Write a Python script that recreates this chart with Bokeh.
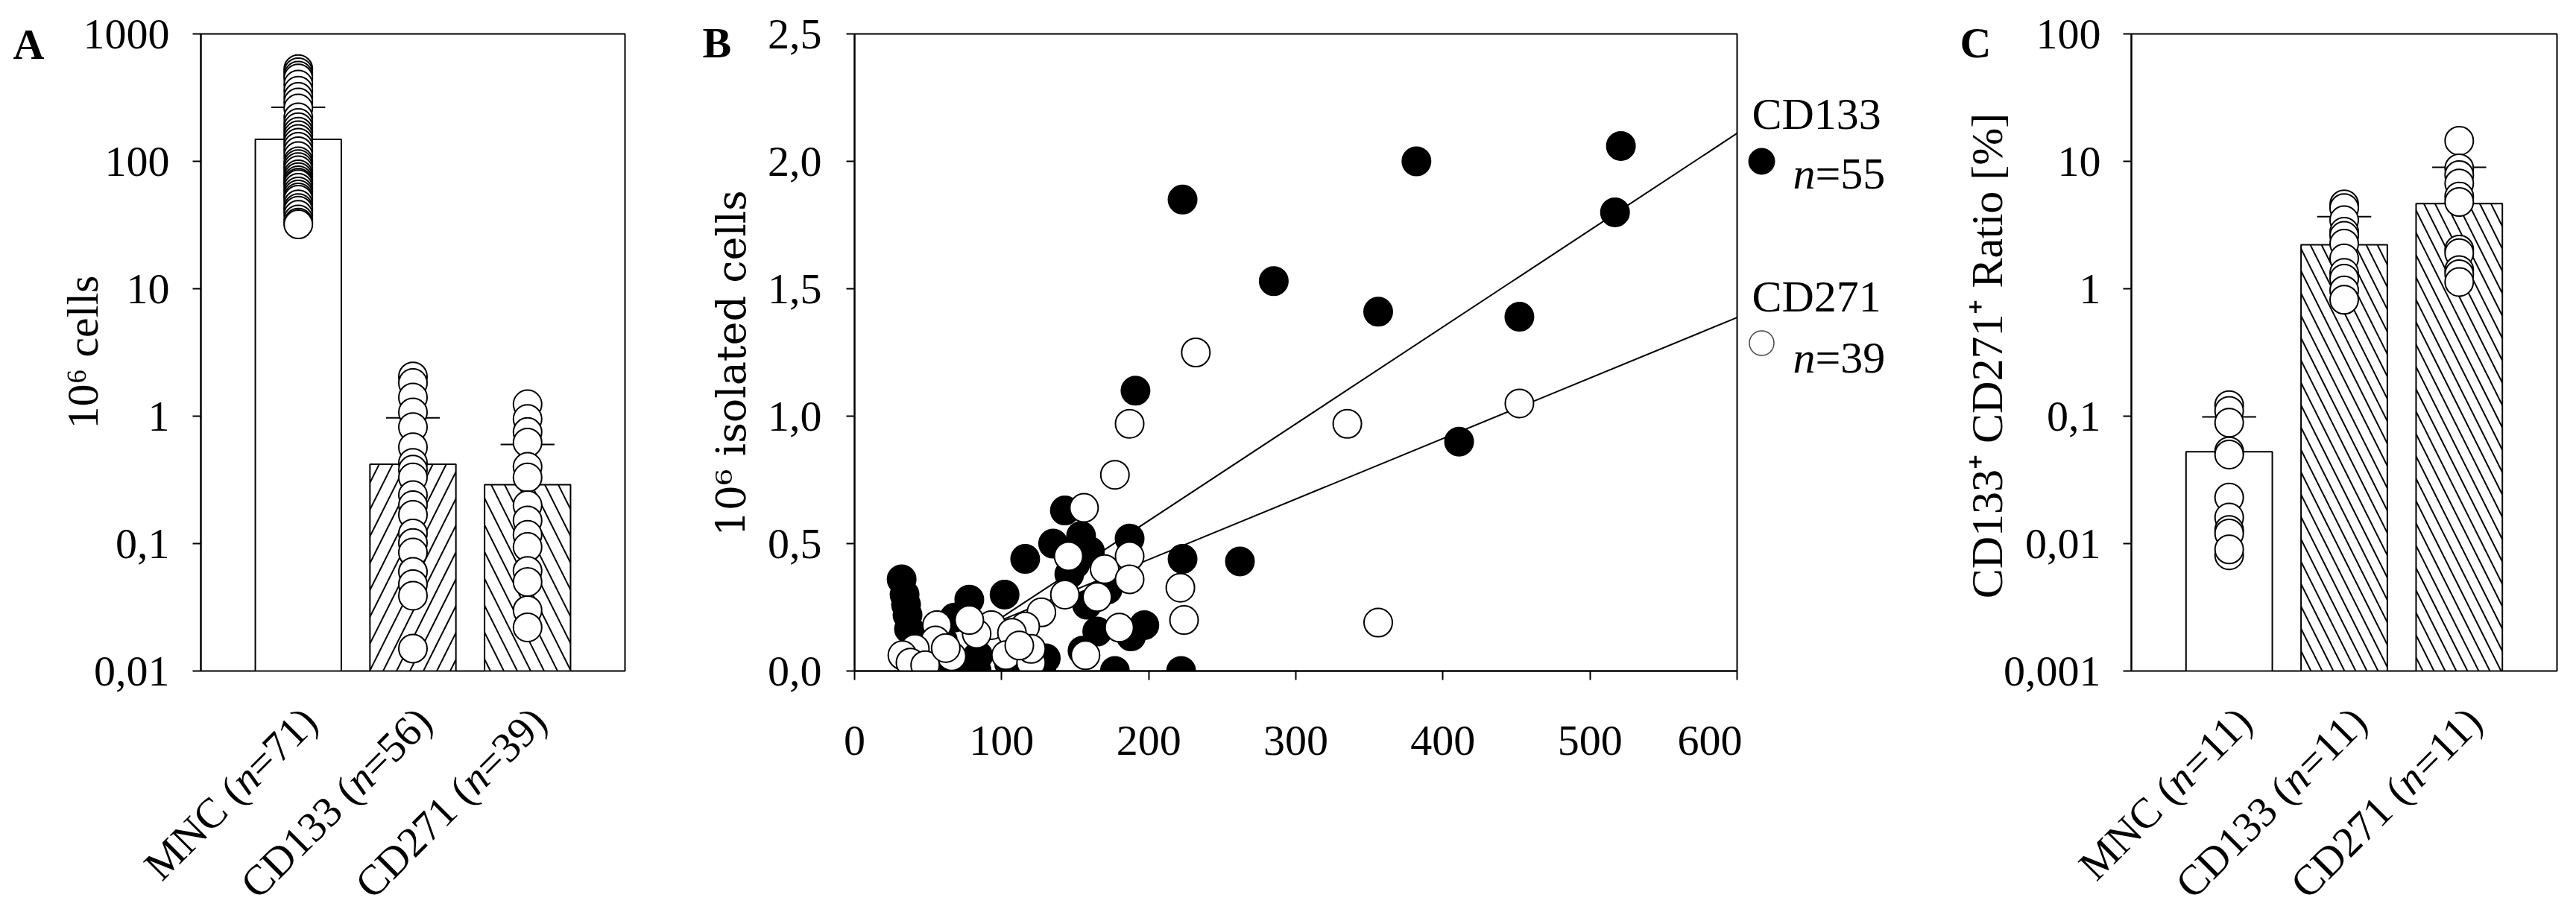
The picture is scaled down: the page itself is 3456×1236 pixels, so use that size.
import math
from bokeh.plotting import figure
from bokeh.layouts import row, column
from bokeh.models import FixedTicker, CustomJSTickFormatter, Label, Range1d, ColumnDataSource
from bokeh.core.properties import value
from bokeh.embed import file_html
from bokeh.resources import INLINE

FONT = "Liberation Serif"

# ---------------- Panel A data ----------------
cats_a = ["MNC", "CD133", "CD271"]
n_a = ["71", "56", "39"]
cells_mean = [149, 0.42, 0.29]
cells_upper = [265, 0.97, 0.60]
mnc_cells = [530, 500, 470, 448, 400, 358, 320, 290, 260, 221, 200, 185, 171, 160, 150,
             140, 130, 120, 110, 100, 95, 90, 85, 79, 75, 71, 68, 66, 62, 58, 55, 52, 50,
             46, 43, 41, 38, 35, 33, 32]
cd133_cells = [2.05, 1.82, 1.40, 1.07, 0.82, 0.57, 0.43, 0.38, 0.33, 0.24, 0.20, 0.168,
               0.12, 0.101, 0.085, 0.06, 0.048, 0.039, 0.015]
cd271_cells = [1.24, 0.95, 0.75, 0.62, 0.40, 0.33, 0.20, 0.152, 0.117, 0.094, 0.061, 0.050,
               0.030, 0.022]
a_ticks = [0.01, 0.1, 1, 10, 100, 1000]
a_hatch = ["blank", "right_diagonal_line", "left_diagonal_line"]

# ---------------- Panel B data ----------------
b133_x = [521, 382, 223, 517, 285, 356, 452, 191, 411, 262, 223,
          32, 34, 36, 37, 35, 78, 68, 102, 116, 135, 143, 154, 187, 146, 158, 172, 165,
          188, 197, 177, 222, 83, 127, 116, 65, 84, 60, 45, 150, 160, 130, 105, 155, 40]
b133_y = [2.06, 2.00, 1.85, 1.80, 1.53, 1.41, 1.39, 1.10, 0.90, 0.43, 0.44,
          0.36, 0.30, 0.22, 0.165, 0.26, 0.28, 0.21, 0.30, 0.44, 0.50, 0.63, 0.53, 0.52,
          0.38, 0.26, 0.32, 0.155, 0.136, 0.18, 0.0, 0.0, 0.0, 0.0, 0.0, 0.02, 0.06, 0.12,
          0.10, 0.42, 0.47, 0.05, 0.03, 0.08, 0.05]
b271_x = [232, 187, 335, 452, 356, 177, 156, 145.5, 170, 187, 187, 143, 165, 127, 116, 93,
          107, 83, 78, 56, 55, 66, 41, 32.5, 38, 48, 103, 120, 120, 180, 157, 221.5, 224,
          112, 62]
b271_y = [1.25, 0.97, 0.97, 1.05, 0.19, 0.77, 0.64, 0.45, 0.40, 0.45, 0.36, 0.30, 0.29,
          0.23, 0.175, 0.18, 0.15, 0.146, 0.20, 0.18, 0.12, 0.058, 0.087, 0.062, 0.033,
          0.023, 0.062, 0.033, 0.087, 0.17, 0.062, 0.327, 0.20, 0.10, 0.09]
fit_x = [100, 600]
fit133_y = [0.21, 2.11]
fit271_y = [0.20, 1.387]
b_xticks = [0, 100, 200, 300, 400, 500, 600]
b_yticks = [0.0, 0.5, 1.0, 1.5, 2.0, 2.5]
legend_names = ["CD133", "CD271"]
legend_n = ["55", "39"]

# ---------------- Panel C data ----------------
cats_c = ["MNC", "CD133", "CD271"]
n_c = ["11", "11", "11"]
ratio_mean = [0.0526, 2.21, 4.65]
ratio_upper = [0.0986, 3.68, 8.98]
ratio_mnc = [0.122, 0.11, 0.089, 0.053, 0.05, 0.023, 0.016, 0.0128, 0.012, 0.0081, 0.009]
ratio_cd133 = [4.6, 4.3, 3.45, 2.8, 2.6, 2.26, 1.73, 1.33, 1.2, 0.97, 0.82]
ratio_cd271 = [14.5, 8.8, 7.8, 6.7, 5.3, 4.8, 2.03, 1.9, 1.4, 1.3, 1.13]
c_ticks = [0.001, 0.01, 0.1, 1, 10, 100]
c_hatch = ["blank", "left_diagonal_line", "left_diagonal_line"]

# ---------------- layout constants (page pixels) ----------------
BT, FH = 45, 855
FT, FB = 53, 908
MAIN_BB = 33
PAGE_BOTTOM = 1228
TW = {"=": .564, ")": .333, "(": .333, " ": .25}


def no_align(p):
    if "frame_align" in p.properties():
        p.frame_align = False
    return p


class Frame:
    def __init__(self, fl, fr, x0, x1, y0, y1, ylog):
        self.fl, self.fr, self.x0, self.x1 = fl, fr, x0, x1
        self.y0, self.y1, self.ylog = y0, y1, ylog
        self.ppu = (fr - fl) / (x1 - x0)

    def xdata(self, px):
        return self.x0 + (px - self.fl) / self.ppu

    def xpage(self, x):
        return self.fl + (x - self.x0) * self.ppu

    def ydata(self, py):
        t = (FB - py) / (FB - FT)
        if self.ylog:
            a, b = math.log10(self.y0), math.log10(self.y1)
            return 10 ** (a + t * (b - a))
        return self.y0 + t * (self.y1 - self.y0)


def side_label(p, fr, text, px, py, size=58, style="normal", align="left",
               base="alphabetic", angle=0.0, font=FONT):
    p.add_layout(Label(x=fr.xdata(px), y=fr.ydata(py), text=text, text_font=font,
                       text_font_size=f"{size}px", text_font_style=style,
                       text_baseline=base, text_align=align, angle=angle,
                       text_color="black"), "left")


def style_common(p):
    p.grid.visible = False
    p.outline_line_color = "black"
    p.outline_line_width = 2
    p.outline_line_alpha = 1
    p.background_fill_color = "white"
    p.border_fill_color = "white"
    for ax in p.axis:
        ax.axis_line_width = 2
        ax.major_tick_line_width = 2
        ax.major_tick_in = 0
        ax.major_tick_out = 11
        ax.minor_tick_out = 0
        ax.minor_tick_in = 0
        ax.major_label_text_font = FONT
        ax.major_label_text_font_size = "58px"
        ax.major_label_text_color = "black"
        ax.axis_line_color = "black"
        ax.major_tick_line_color = "black"


def bar_panel(fr, bl, br, ticks, means, uppers, groups, hatches, hscale, label_standoff):
    frame_w = fr.fr - fr.fl
    p = figure(x_range=Range1d(fr.x0, fr.x1), y_range=Range1d(fr.y0, fr.y1),
               y_axis_type="log", x_axis_location=None, frame_width=frame_w, frame_height=FH,
               min_border_left=bl, min_border_right=br, min_border_top=BT,
               min_border_bottom=MAIN_BB, toolbar_location=None, output_backend="svg")
    no_align(p)
    style_common(p)
    p.yaxis.ticker = FixedTicker(ticks=ticks, minor_ticks=[])
    p.yaxis.formatter = CustomJSTickFormatter(code="return String(tick).replace('.', ',');")
    p.yaxis.major_label_standoff = label_standoff
    xs = [1, 2, 3]
    src = ColumnDataSource(dict(x=xs, top=means, bottom=[fr.y0] * 3, hatch=hatches))
    p.vbar(x="x", top="top", bottom="bottom", width=0.75, source=src, fill_color="white",
           line_color="black", line_width=2, hatch_pattern="hatch", hatch_scale=hscale,
           hatch_weight=2, hatch_color="black")
    p.segment(x0=xs, y0=means, x1=xs, y1=uppers, line_color="black", line_width=2)
    p.segment(x0=[x - 0.235 for x in xs], y0=uppers, x1=[x + 0.235 for x in xs], y1=uppers,
              line_color="black", line_width=2)
    for i, g in enumerate(groups):
        p.scatter([i + 1] * len(g), g, marker="circle", size=38, fill_color="white",
                  line_color="black", line_width=2)
    return p


def category_strip(fr, fig_left, fig_right, names, ns, F=57, dx=20, ay=966):
    """Rotated category labels (with italic n) drawn in a strip under the panel."""
    top = FB + MAIN_BB
    w = fig_right - fig_left
    h = PAGE_BOTTOM - top
    q = figure(x_range=Range1d(fr.xdata(fig_left), fr.xdata(fig_right)),
               y_range=Range1d(PAGE_BOTTOM, top), frame_width=w, frame_height=h,
               min_border=0, min_border_left=0, min_border_right=0, min_border_top=0,
               min_border_bottom=0, x_axis_location=None, y_axis_location=None,
               toolbar_location=None, output_backend="svg")
    no_align(q)
    q.grid.visible = False
    q.outline_line_color = None
    q.background_fill_color = "white"
    q.border_fill_color = "white"
    d = math.sqrt(0.5)
    seg = {"normal": dict(x=[], y=[], t=[]), "italic": dict(x=[], y=[], t=[])}
    for i, (nm, n) in enumerate(zip(names, ns)):
        ax = fr.xpage(i + 1) + dx
        tail = "=" + n + ")"
        head = nm + " ("
        wt = sum(TW.get(ch, .5) for ch in tail) * F
        wn = 0.5 * F
        for txt, back, st in [(tail, 0, "normal"), ("n", wt, "italic"),
                              (head, wt + wn, "normal")]:
            seg[st]["x"].append(fr.xdata(ax - back * d))
            seg[st]["y"].append(ay + back * d)
            seg[st]["t"].append(txt)
    for st, s in seg.items():
        q.text(x=s["x"], y=s["y"], text=s["t"], angle=math.pi / 4,
               text_align=value("right"), text_baseline=value("middle"),
               text_font=value(FONT), text_font_size=value(f"{F}px"),
               text_font_style=value(st), text_color="black")
    return q


# ---------------- Panel A ----------------
frA = Frame(272, 841, 0.15, 3.85, 0.01, 1000, True)
pA = bar_panel(frA, 264, 40, a_ticks, cells_mean, cells_upper,
               [mnc_cells, cd133_cells, cd271_cells], a_hatch, 36, 31)
side_label(pA, frA, "10\u2076 cells", 113, 480, size=60, align="center", base="middle",
           angle=math.pi / 2)
side_label(pA, frA, "A", 20, 67, style="bold")
qA = category_strip(frA, 8, 881, cats_a, n_a)
colA = no_align(column(pA, qA))

# ---------------- Panel B ----------------
frB = Frame(1149, 2333, 0, 600, 0, 2.5, False)
pB = figure(x_range=Range1d(0, 600), y_range=Range1d(0, 2.5), frame_width=1184,
            frame_height=FH, min_border_left=268, min_border_right=7, min_border_top=BT,
            min_border_bottom=PAGE_BOTTOM - FB, toolbar_location=None, output_backend="svg")
no_align(pB)
style_common(pB)
pB.xaxis.ticker = FixedTicker(ticks=b_xticks, minor_ticks=[])
pB.xaxis.major_tick_out = 12
pB.xaxis.major_label_standoff = 62
pB.yaxis.ticker = FixedTicker(ticks=b_yticks, minor_ticks=[])
pB.yaxis.formatter = CustomJSTickFormatter(code="return tick.toFixed(1).replace('.', ',');")
pB.yaxis.major_label_standoff = 33
pB.scatter(b133_x, b133_y, marker="circle", size=38, fill_color="black", line_color="black",
           line_width=2)
pB.line(fit_x, fit133_y, line_color="black", line_width=2)
pB.line(fit_x, fit271_y, line_color="black", line_width=2)
pB.scatter(b271_x, b271_y, marker="circle", size=38, fill_color="white", line_color="black",
           line_width=2)
side_label(pB, frB, "10\u2076 isolated cells", 984, 495, size=54, align="center",
           base="middle", angle=math.pi / 2, font="DejaVu Serif")
side_label(pB, frB, "B", 945, 65, style="bold")

# ---------------- Legend for B (page-pixel coordinates) ----------------
pL = figure(x_range=Range1d(2340, 2570), y_range=Range1d(FB, FT), frame_width=230,
            frame_height=FH, min_border_left=0, min_border_right=0, min_border_top=BT,
            min_border_bottom=PAGE_BOTTOM - FB, x_axis_location=None, y_axis_location=None,
            toolbar_location=None, output_backend="svg")
no_align(pL)
pL.grid.visible = False
pL.outline_line_color = None
pL.scatter([2366], [224], marker="circle", size=35, fill_color="black", line_color="black")
pL.scatter([2366], [468], marker="circle", size=33, fill_color="white", line_color="#444444",
           line_width=1.5)
for k, (nm, n) in enumerate(zip(legend_names, legend_n)):
    base_name = 160 + k * 245
    base_n = 240 + k * 247
    for txt, x, y, st in [(nm, 2353, base_name, "normal"), ("n", 2408, base_n, "italic"),
                          ("=" + n, 2438, base_n, "normal")]:
        pL.add_layout(Label(x=x, y=y, text=txt, text_font=FONT, text_font_size="60px",
                            text_font_style=st, text_baseline="alphabetic",
                            text_color="black"))

# ---------------- Panel C ----------------
frC = Frame(2862, 3433, 0.15, 3.85, 0.001, 100, True)
pC = bar_panel(frC, 292, 10, c_ticks, ratio_mean, ratio_upper,
               [ratio_mnc, ratio_cd133, ratio_cd271], c_hatch, 30, 30)
side_label(pC, frC, "CD133\u207a CD271\u207a Ratio [%]", 2668, 485, size=60, align="center",
           base="middle", angle=math.pi / 2)
side_label(pC, frC, "C", 2632, 65, style="bold")
qC = category_strip(frC, 2570, 3443, cats_c, n_c)
colC = no_align(column(pC, qC))

layout = row(colA, pB, pL, colC)
open("out.html", "w").write(file_html(layout, INLINE))
